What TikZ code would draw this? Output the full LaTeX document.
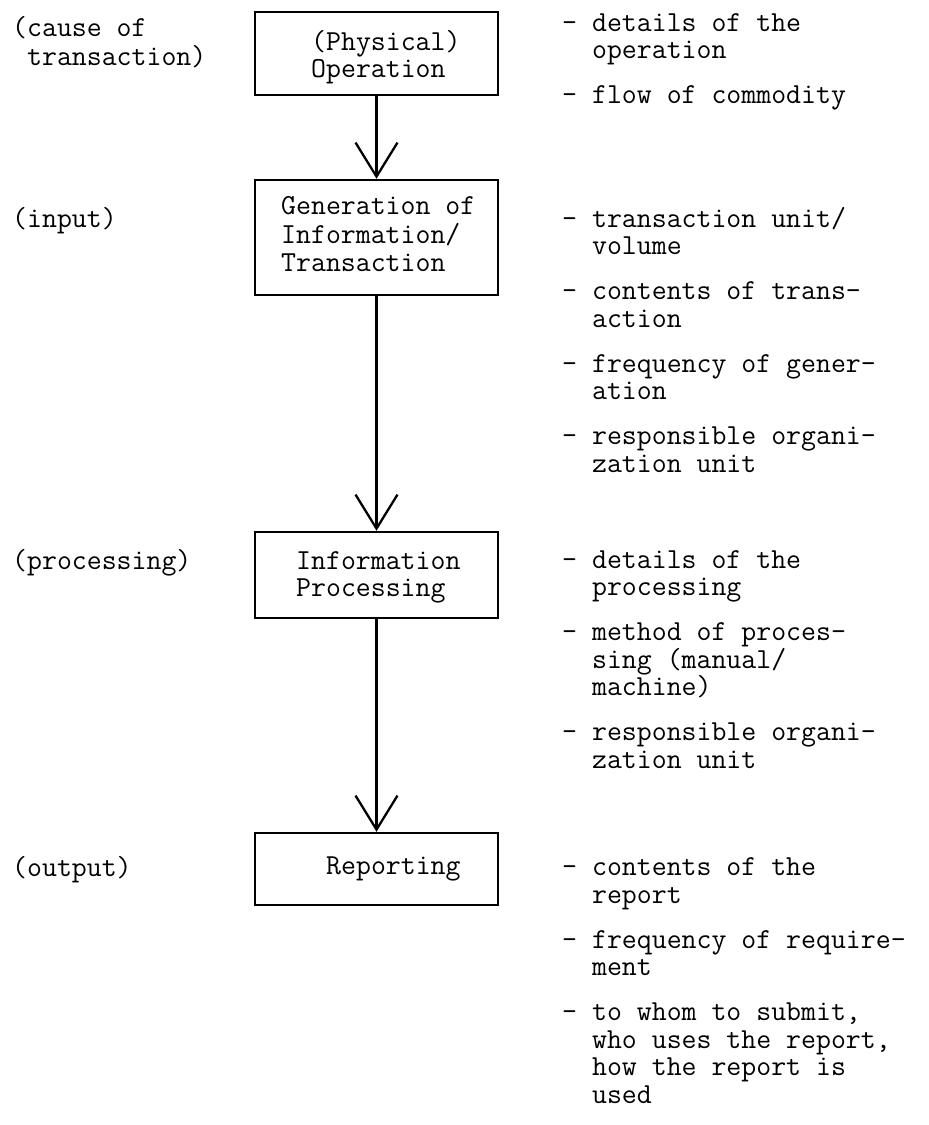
\documentclass[tikz,border=0pt]{standalone}
\usetikzlibrary{arrows.meta}
% typewriter face used for every label
\newcommand\tw{\fontsize{29pt}{27.5pt}\selectfont\ttfamily}
\newcommand\hang{\hphantom{- }}
\begin{document}
\begin{tikzpicture}[x=1pt,y=-1pt,
  box/.style={draw, line width=2.5pt, minimum width=243pt, inner sep=0pt},
  flow/.style={line width=2.3pt, -{Straight Barb[length=34pt,width=42pt]}},
  txt/.style={anchor=north west, inner sep=0pt, align=left, font=\tw}]
\useasboundingbox (0,0) rectangle (929,1125);

% process boxes
\node[box, minimum height=83pt]  (b1) at (376.5,53.5) {};
\node[box, minimum height=115pt] (b2) at (376.5,237.5) {};
\node[box, minimum height=86pt]  (b3) at (376.5,575) {};
\node[box, minimum height=72pt]  (b4) at (376.5,869) {};

% box captions
\node[txt] (t1) at (311,29.75)  {\strut(Physical)\\Operation};
\node[txt] (t2) at (281,194.75) {\strut Generation of\\Information/\\Transaction};
\node[txt] (t3) at (296,549.75) {\strut Information\\Processing};
\node[txt] (t4) at (326,854.75) {\strut Reporting};

% flow between the stages
\draw[flow] (b1.south) -- (b2.north);
\draw[flow] (b2.south) -- (b3.north);
\draw[flow] (b3.south) -- (b4.north);

% stage roles
\node[txt] (lc) at (12,15.75)  {\strut(cause of\\\hphantom{(}transaction)};
\node[txt] (li) at (12,206.75) {\strut(input)};
\node[txt] (lp) at (12,548.75) {\strut(processing)};
\node[txt] (lo) at (12,855.75) {\strut(output)};

% details of each stage
\node[txt] (ra) at (562,11.75) {\strut- details of the\\\hang operation\\[17.5pt]
  - flow of commodity};
\node[txt] (rb) at (562,206.75) {\strut- transaction unit/\\\hang volume\\[17.5pt]
  - contents of trans-\\\hang action\\[17.5pt]
  - frequency of gener-\\\hang ation\\[17.5pt]
  - responsible organi-\\\hang zation unit};
\node[txt] (rc) at (562,548.75) {\strut- details of the\\\hang processing\\[17.5pt]
  - method of proces-\\\hang sing (manual/\\\hang machine)\\[17.5pt]
  - responsible organi-\\\hang zation unit};
\node[txt] (rd) at (562,856.25) {\strut- contents of the\\\hang report\\[17.5pt]
  - frequency of require-\\\hang ment\\[17.5pt]
  - to whom to submit,\\\hang who uses the report,\\\hang how the report is\\\hang used};
\end{tikzpicture}
\end{document}
